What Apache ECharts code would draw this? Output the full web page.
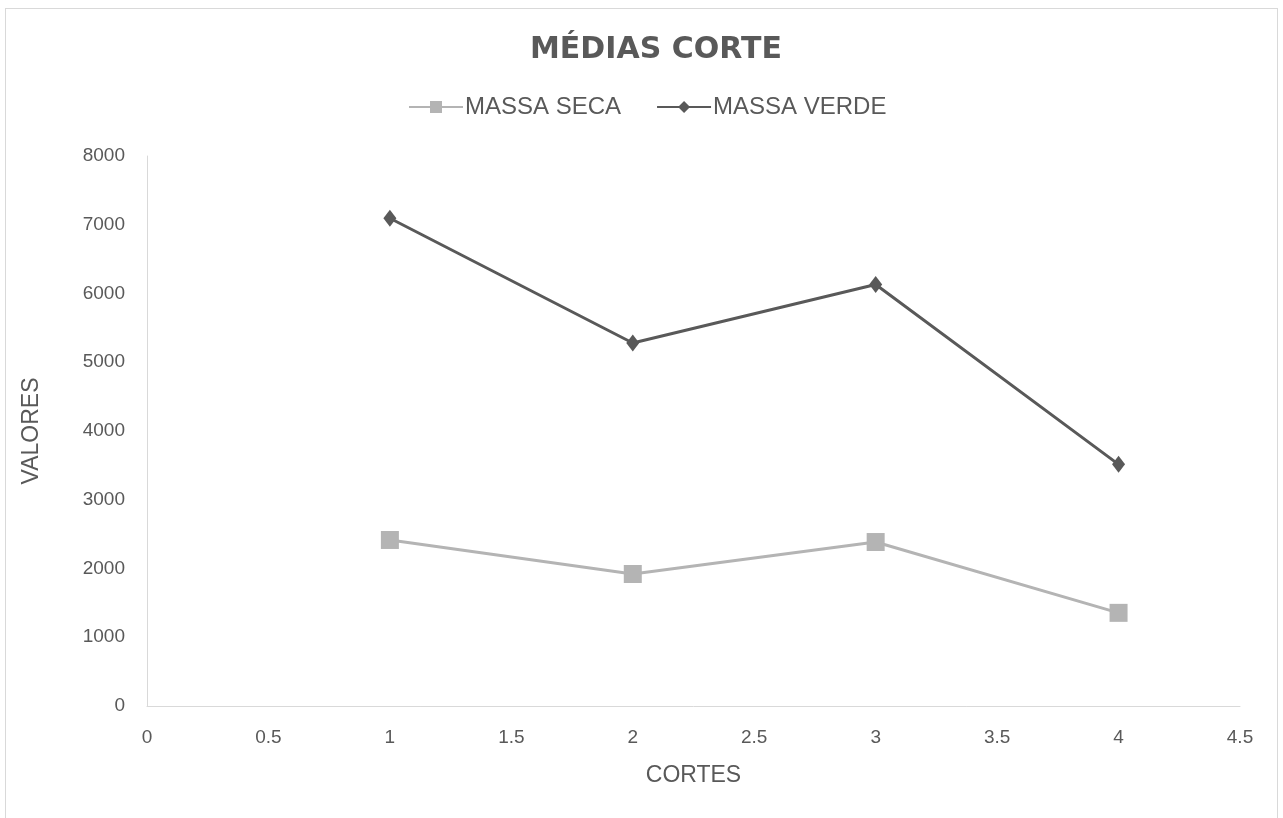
<!DOCTYPE html>
<html><head><meta charset="utf-8">
<script src="https://cdn.jsdelivr.net/npm/echarts@6/dist/echarts.min.js"></script>
<style>
html,body{margin:0;padding:0;background:#fff;}
#frame{position:absolute;left:5px;top:8px;width:1273px;height:820px;border:1px solid #d9d9d9;box-sizing:border-box;}
#c{position:absolute;left:0;top:0;width:1283px;height:818px;}
</style></head>
<body><div id="frame"></div><div id="c"></div>
<script>
const cortes = [1, 2, 3, 4];
const massaSeca = [2415, 1920, 2385, 1355];
const massaVerde = [7095, 5280, 6130, 3515];
const seriesNames = ['MASSA SECA', 'MASSA VERDE'];
const titleText = 'MÉDIAS CORTE';

const chart = echarts.init(document.getElementById('c'));
const font = '"Liberation Sans", Arial, sans-serif';
chart.setOption({
  animation: false,
  title: {
    text: titleText, left: 525, top: 30,
    textStyle: { fontFamily: '"DejaVu Sans", sans-serif', fontSize: 30, fontWeight: 'bold', color: '#595959' }
  },
  legend: {
    top: 90, left: 403, itemGap: 35, itemWidth: 54, itemHeight: 15,
    textStyle: { fontFamily: font, fontSize: 24, color: '#595959', padding: [0, 0, 0, -3] },
    data: seriesNames
  },
  grid: { left: 147, right: 43, top: 156, bottom: 112 },
  xAxis: {
    type: 'value', min: 0, max: 4.5, interval: 0.5,
    name: 'CORTES', nameLocation: 'middle', nameGap: 58,
    nameTextStyle: { fontFamily: font, fontSize: 23, color: '#595959' },
    axisLine: { show: true, lineStyle: { color: '#d9d9d9', width: 1 } },
    axisTick: { show: false }, splitLine: { show: false },
    axisLabel: { fontFamily: font, fontSize: 19, color: '#595959', margin: 22 }
  },
  yAxis: {
    type: 'value', min: 0, max: 8000, interval: 1000,
    name: 'VALORES', nameLocation: 'middle', nameGap: 104, nameRotate: 90,
    nameTextStyle: { fontFamily: font, fontSize: 23, color: '#595959' },
    axisLine: { show: true, lineStyle: { color: '#d9d9d9', width: 1 } },
    axisTick: { show: false }, splitLine: { show: false },
    axisLabel: { fontFamily: font, fontSize: 19, color: '#595959', margin: 22, formatter: v => String(v) }
  },
  series: [
    {
      name: seriesNames[0], type: 'line',
      data: cortes.map((x, i) => [x, massaSeca[i]]),
      symbol: 'rect', symbolSize: 18,
      lineStyle: { color: '#b4b4b4', width: 3 },
      itemStyle: { color: '#b4b4b4' }
    },
    {
      name: seriesNames[1], type: 'line',
      data: cortes.map((x, i) => [x, massaVerde[i]]),
      symbol: 'diamond', symbolSize: [13, 17],
      lineStyle: { color: '#595959', width: 3 },
      itemStyle: { color: '#595959' }
    }
  ]
});
</script></body></html>
